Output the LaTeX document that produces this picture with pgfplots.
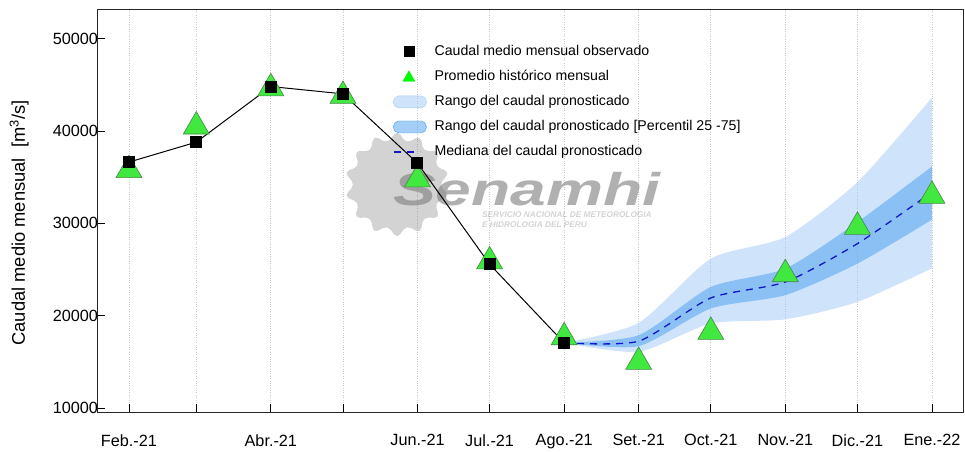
\documentclass[border=0pt]{standalone}
\usepackage{fontspec}
\setmainfont{Liberation Sans}
\usepackage{graphicx}
\usepackage{pgfplots}
\pgfplotsset{compat=1.18}
\usepgfplotslibrary{fillbetween}
\usetikzlibrary{shapes.geometric}
\definecolor{lightband}{RGB}{159,201,247}
\definecolor{darkband}{RGB}{73,156,239}
\definecolor{trifill}{RGB}{64,232,64}
\definecolor{triedge}{RGB}{70,135,70}
\definecolor{medblue}{RGB}{20,20,200}
\definecolor{gridgray}{RGB}{200,200,200}
\begin{document}
\begin{tikzpicture}
\begin{axis}[
  at={(0,0)}, anchor=south west,
  scale only axis, width=866bp, height=402bp,
  xmin=-13.3, xmax=346.9, ymin=9570, ymax=53100,
  xtick={0,28,59,89,120,150,181,212,242,273,303,334},
  xticklabels={Feb.-21,,Abr.-21,,Jun.-21,Jul.-21,Ago.-21,Set.-21,Oct.-21,Nov.-21,Dic.-21,Ene.-22},
  ytick={10000,20000,30000,40000,50000},
  yticklabels={10000,20000,30000,40000,50000},
  xtick pos=bottom, ytick pos=left,
  tick align=inside,
  major tick length=8bp,
  tick style={black, line width=0.8bp},
  axis line style={line width=1bp, black!85},
  xmajorgrids, grid style={gridgray, dotted, line width=0.8bp},
  tick label style={font=\fontsize{16.3}{18}\selectfont},
  xticklabel style={yshift=-19bp},
  yticklabel style={xshift=4.5bp},
  ylabel={Caudal medio mensual\ \ [m\textsuperscript{3}/s]},
  ylabel style={at={(axis description cs:-0.090,0.47)}, anchor=center, font=\fontsize{18.4}{20}\selectfont},
  legend style={at={(axis description cs:0.3418,0.913)}, anchor=north west, draw=none, fill=none,
    font=\fontsize{14.2}{16}\selectfont, inner sep=0pt, row sep=12.1bp,
    nodes={inner sep=0pt, text height=10bp, text depth=3bp},
    /tikz/every odd column/.style={column sep=8bp}},
  legend cell align=left,
]
% legend entries
\addlegendimage{legend image code/.code={\fill[black] (10.5bp,-5bp) rectangle (20.5bp,5bp);}}
\addlegendentry{Caudal medio mensual observado}
\addlegendimage{legend image code/.code={\fill[green!85!black!10!green] (9.5bp,-4.5bp) -- (21.5bp,-4.5bp) -- (15.5bp,6bp) -- cycle;}}
\addlegendentry{Promedio histórico mensual}
\addlegendimage{legend image code/.code={\fill[lightband, fill opacity=0.5, rounded corners=5.5bp] (0bp,-6bp) rectangle (33bp,6bp);}}
\addlegendentry{Rango del caudal pronosticado}
\addlegendimage{legend image code/.code={\fill[darkband, fill opacity=0.5, rounded corners=5.5bp] (0bp,-6bp) rectangle (33bp,6bp);}}
\addlegendentry{Rango del caudal pronosticado [Percentil 25 -75]}
\addlegendimage{legend image code/.code={\draw[medblue, line width=1.2bp, dash pattern=on 7bp off 6bp] (1bp,0bp) -- (27bp,0bp);}}
\addlegendentry{Mediana del caudal pronosticado}

% historical monthly mean (triangles)
\addplot[only marks, mark=triangle*, mark size=15bp, mark options={fill=trifill, draw=triedge, line width=0.6bp}, forget plot]
 coordinates {(0,35760) (28,40480) (59,44620) (89,43800) (120,34760) (150,25880)
              (181,17660) (212,14990) (242,18240) (273,24490) (303,29620) (334,32970)};

% forecast range (light)
\addplot[name path=LU, draw=none, smooth, tension=0.4, forget plot] coordinates
 {(181,17060) (212,19220) (242,26180) (273,28520) (303,34470) (334,43620)};
\addplot[name path=LL, draw=none, smooth, tension=0.4, forget plot] coordinates
 {(181,17060) (212,16090) (242,19150) (273,19600) (303,21490) (334,25140)};
\addplot[lightband, fill opacity=0.5, draw=none, forget plot] fill between[of=LU and LL];

% forecast range percentile 25-75 (dark)
\addplot[name path=DU, draw=none, smooth, tension=0.4, forget plot] coordinates
 {(181,17060) (212,17890) (242,23110) (273,25100) (303,30140) (334,36160)};
\addplot[name path=DL, draw=none, smooth, tension=0.4, forget plot] coordinates
 {(181,17060) (212,16700) (242,20780) (273,22220) (303,25640) (334,30400)};
\addplot[darkband, fill opacity=0.5, draw=none, forget plot] fill between[of=DU and DL];

% watermark
\node[star, star points=14, star point ratio=1.28, minimum size=108bp, rounded corners=5bp, fill=gray, fill opacity=0.35, draw=none, inner sep=0pt] at (axis cs:111.5,34215) {};
\node[anchor=base west, inner sep=0pt, text=gray, text opacity=0.62, font=\fontsize{46}{46}\selectfont\bfseries\itshape] at (axis cs:109.8,31950) {\scalebox{1.4}[1]{Senamhi}};
\node[anchor=base west, inner sep=0pt, text=gray, text opacity=0.35, font=\fontsize{8.3}{9}\selectfont\bfseries\itshape] at (axis cs:146.8,30650) {SERVICIO NACIONAL DE METEOROLOGIA};
\node[anchor=base west, inner sep=0pt, text=gray, text opacity=0.35, font=\fontsize{8.3}{9}\selectfont\bfseries\itshape] at (axis cs:146.8,29600) {E HIDROLOGIA DEL PERU};

% median forecast
\addplot[medblue, line width=1.3bp, dash pattern=on 7bp off 6bp, smooth, tension=0.4, forget plot] coordinates
 {(181,17060) (212,17240) (242,21920) (273,23650) (303,27800) (334,33380)};

% observed
\addplot[black, line width=1bp, mark=square*, mark size=5.5bp, mark options={solid, fill=black}, forget plot]
 coordinates {(0,36630) (28,38790) (59,44810) (89,44020) (120,36520) (150,25570) (181,17060)};
\end{axis}
\pgfresetboundingbox
\path[use as bounding box] (-97bp,-40bp) rectangle (868bp,412bp);
\end{tikzpicture}
\end{document}
